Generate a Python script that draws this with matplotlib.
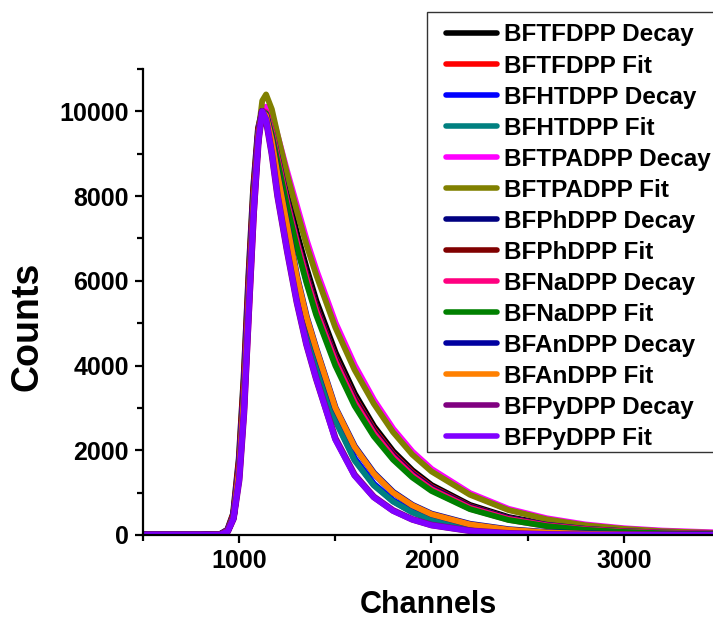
import matplotlib
matplotlib.use('Agg')
import matplotlib.pyplot as plt
from matplotlib.patches import Rectangle
from matplotlib.ticker import MultipleLocator

plt.rcParams['font.family'] = ['Liberation Sans', 'DejaVu Sans']
plt.rcParams['font.weight'] = 'bold'

# Channel grid the curves were read on
channels = [500, 800, 900, 940, 970, 1000, 1025, 1050, 1075, 1100, 1120,
            1140, 1170, 1200, 1250, 1300, 1350, 1400, 1500, 1600, 1700,
            1800, 1900, 2000, 2200, 2400, 2600, 2800, 3000, 3200, 3500]

tfdpp_decay = [0, 0, 10, 120, 500, 1800, 3700, 6100, 8200, 9600, 10000,
               10000, 9600, 9050, 8050, 7100, 6280, 5520, 4300, 3330, 2560,
               1970, 1520, 1170, 700, 415, 248, 145, 88, 52, 23]
tfdpp_fit = [0, 0, 10, 120, 500, 1800, 3700, 6100, 8200, 9600, 10000,
             9950, 9500, 8900, 7900, 6950, 6150, 5400, 4200, 3250, 2500,
             1920, 1480, 1140, 680, 400, 240, 140, 85, 50, 22]
htdpp_decay = [0, 0, 8, 100, 420, 1550, 3300, 5700, 7900, 9450, 10000,
               9850, 9150, 8300, 7000, 5850, 4900, 4100, 2750, 1800, 1200,
               810, 550, 370, 175, 80, 35, 15, 7, 3, 1]
htdpp_fit = [0, 0, 8, 100, 420, 1550, 3300, 5700, 7900, 9450, 10000,
             9800, 9100, 8250, 6950, 5800, 4850, 4050, 2700, 1760, 1170,
             790, 535, 360, 170, 77, 33, 14, 6, 2, 0]
tpadpp_decay = [0, 0, 5, 90, 400, 1400, 3000, 5300, 7600, 9400, 10000,
                10100, 9900, 9400, 8550, 7750, 6950, 6250, 5000, 4000, 3180,
                2500, 1960, 1550, 980, 610, 385, 240, 150, 95, 48]
tpadpp_fit = [0, 0, 5, 90, 400, 1400, 3000, 5300, 7600, 9500, 10250,
              10400, 10050, 9450, 8500, 7650, 6850, 6150, 4900, 3900, 3100,
              2430, 1900, 1500, 950, 590, 370, 230, 145, 90, 45]
phdpp_decay = [0, 0, 8, 100, 420, 1550, 3300, 5700, 7900, 9450, 10000,
               9950, 9500, 8900, 7880, 6920, 6100, 5350, 4150, 3200, 2450,
               1880, 1440, 1110, 660, 390, 232, 136, 82, 48, 20]
phdpp_fit = [0, 0, 8, 100, 420, 1550, 3300, 5700, 7900, 9450, 10000,
             9950, 9480, 8880, 7850, 6900, 6080, 5330, 4130, 3180, 2430,
             1860, 1420, 1090, 650, 380, 225, 132, 80, 46, 19]
nadpp_decay = [0, 0, 8, 100, 420, 1550, 3300, 5700, 7900, 9450, 10000,
               9980, 9500, 8850, 7800, 6880, 6030, 5280, 4080, 3120, 2390,
               1830, 1400, 1070, 630, 370, 218, 128, 76, 45, 20]
nadpp_fit = [0, 0, 8, 100, 420, 1550, 3300, 5700, 7900, 9450, 10000,
             9950, 9450, 8800, 7750, 6800, 5950, 5200, 4000, 3050, 2330,
             1780, 1360, 1040, 610, 355, 210, 122, 72, 42, 18]
andpp_decay = [0, 0, 8, 100, 420, 1550, 3300, 5700, 7900, 9450, 10000,
               9900, 9300, 8500, 7300, 6100, 5150, 4400, 3000, 2090, 1460,
               1010, 705, 495, 255, 128, 62, 29, 14, 6, 2]
andpp_fit = [0, 0, 8, 100, 420, 1550, 3300, 5700, 7900, 9450, 10000,
             9900, 9300, 8500, 7300, 6100, 5150, 4400, 3000, 2080, 1450,
             1000, 700, 490, 250, 125, 60, 28, 13, 6, 2]
pydpp_decay = [0, 0, 5, 80, 380, 1300, 2900, 5300, 7600, 9300, 10000,
               9800, 9000, 8000, 6700, 5500, 4500, 3700, 2280, 1420, 900,
               580, 370, 235, 100, 40, 15, 5, 2, 1, 0]
pydpp_fit = [0, 0, 5, 80, 380, 1300, 2900, 5300, 7600, 9300, 10000,
             9800, 9000, 8000, 6700, 5500, 4500, 3700, 2250, 1400, 890,
             570, 365, 230, 98, 40, 15, 5, 2, 1, 0]

series = [
    ('BFTFDPP Decay', tfdpp_decay, '#000000'),
    ('BFTFDPP Fit', tfdpp_fit, '#ff0000'),
    ('BFHTDPP Decay', htdpp_decay, '#0000ff'),
    ('BFHTDPP Fit', htdpp_fit, '#008080'),
    ('BFTPADPP Decay', tpadpp_decay, '#ff00ff'),
    ('BFTPADPP Fit', tpadpp_fit, '#808000'),
    ('BFPhDPP Decay', phdpp_decay, '#000080'),
    ('BFPhDPP Fit', phdpp_fit, '#800000'),
    ('BFNaDPP Decay', nadpp_decay, '#ff0080'),
    ('BFNaDPP Fit', nadpp_fit, '#008000'),
    ('BFAnDPP Decay', andpp_decay, '#0000a0'),
    ('BFAnDPP Fit', andpp_fit, '#ff8000'),
    ('BFPyDPP Decay', pydpp_decay, '#800080'),
    ('BFPyDPP Fit', pydpp_fit, '#8000ff'),
]

fig = plt.figure(figsize=(7.13, 6.21), dpi=100)
ax = fig.add_axes([143 / 713, 86 / 621, 570 / 713, 466 / 621])

for label, counts, colour in series:
    lw = 4.8 if label.endswith('Decay') else 4.2
    ax.plot(channels, counts, color=colour, lw=lw, label=label,
            solid_joinstyle='round', solid_capstyle='round')

ax.set_xlim(500, 3464)
ax.set_ylim(0, 11000)
ax.xaxis.set_major_locator(MultipleLocator(1000))
ax.xaxis.set_minor_locator(MultipleLocator(500))
ax.yaxis.set_major_locator(MultipleLocator(2000))
ax.yaxis.set_minor_locator(MultipleLocator(1000))

for side in ('top', 'right'):
    ax.spines[side].set_visible(False)
for side in ('left', 'bottom'):
    ax.spines[side].set_linewidth(1.6)

ax.tick_params(which='major', length=6, width=1.6, labelsize=18, pad=4)
ax.tick_params(which='minor', length=4, width=1.6)
for lab in ax.get_xticklabels() + ax.get_yticklabels():
    lab.set_fontweight('bold')

ax.set_xlabel('Channels', fontsize=22, fontweight='bold', labelpad=12)
ax.set_ylabel('Counts', fontsize=27, fontweight='bold', va='center')
ax.yaxis.set_label_coords(-0.2035, 0.448)

leg = ax.legend(loc='upper left', bbox_to_anchor=(446 / 713, 1 - 23.5 / 621),
                bbox_transform=fig.transFigure, fontsize=17.5,
                handlelength=2.1, handletextpad=0.3, labelspacing=0.33,
                borderpad=0, borderaxespad=0, frameon=False)
for line in leg.get_lines():
    line.set_linewidth(4.0)

# legend box runs off the right edge of the picture
fig.patches.append(Rectangle((427 / 713, (621 - 452) / 621), 300 / 713,
                             440 / 621, transform=fig.transFigure,
                             facecolor='none', edgecolor='#333333', lw=1.0))

fig.savefig('out.png', dpi=100, facecolor='white')
